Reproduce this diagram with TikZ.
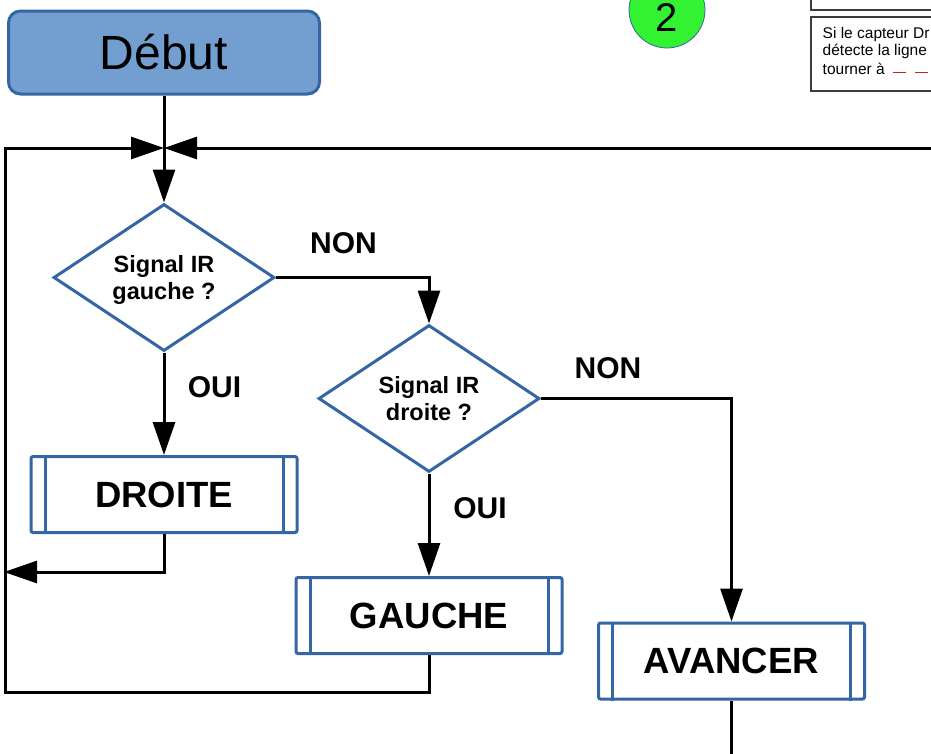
\documentclass[tikz,border=0pt]{standalone}
\usepackage{fontspec}
\setmainfont{Liberation Sans}
\usetikzlibrary{arrows.meta,shapes.geometric,calc}
\definecolor{bluebd}{RGB}{52,101,164}
\definecolor{bluefill}{RGB}{114,159,207}
\definecolor{greenc}{RGB}{50,242,50}
\definecolor{darkred}{RGB}{190,40,40}
\definecolor{boxgray}{RGB}{60,60,60}
\begin{document}
\begin{tikzpicture}[x=1pt,y=-1pt,
  line/.style={line width=3pt, black},
  arr/.style={line, -{Triangle[length=33pt,width=22pt]}},
  procbox/.style={draw=bluebd, line width=3pt, rounded corners=2pt, minimum width=266pt, minimum height=76pt, inner sep=0pt, font=\fontsize{36.5}{40}\selectfont\bfseries},
  decision/.style={diamond, draw=bluebd, line width=3pt, minimum width=221pt, minimum height=147pt, inner sep=0pt, aspect=1.5, align=center, font=\fontsize{23.5}{27}\selectfont\bfseries},
  lbl/.style={font=\fontsize{30}{34}\selectfont\bfseries, inner sep=0pt},
  small/.style={font=\fontsize{15.5}{18}\selectfont, inner sep=0pt, anchor=base west}
]
\useasboundingbox (0,0) rectangle (931,753);

% start
\node[draw=bluebd, fill=bluefill, line width=3pt, rounded corners=12pt,
      minimum width=311pt, minimum height=83pt, inner sep=0pt,
      font=\fontsize{48}{52}\selectfont] (debut) at (164,52.5) {Début};

% circle with 2
\node[circle, draw=bluebd, line width=0.8pt, fill=greenc, minimum size=76pt, inner sep=0pt] (circ) at (667,10) {};
\node[font=\fontsize{40}{44}\selectfont, anchor=base, inner sep=0pt] (two) at (667,31) {2};

% top-right note boxes
\draw[boxgray, line width=1.2pt] (811,-5) -- (811,10) -- (940,10);
\draw[boxgray, line width=1.2pt] (940,17) -- (811,17) -- (811,91) -- (940,91);
\node[small] (t1) at (822.5,38) {Si le capteur Dr};
\node[small] (t2) at (822.5,55.5) {détecte la ligne};
\node[small] (t3) at (822.5,74) {tourner à};
\draw[darkred, line width=1.5pt, dash pattern=on 13pt off 9pt] (893,72.5) -- (945,72.5);

% decisions
\node[decision, text depth=0pt] (d1) at (164,277.5) {Signal IR\\gauche ?};
\node[decision] (d2) at (429,398.5) {Signal IR\\droite ?};

% process boxes
\node[procbox] (droite) at (164,494.5) {DROITE};
\node[procbox] (gauche) at (429,615.5) {GAUCHE};
\node[procbox] (avancer) at (731.5,661) {AVANCER};
\foreach \n in {droite,gauche,avancer}{
  \draw[bluebd, line width=3pt] ([xshift=15.5pt]\n.north west) -- ([xshift=15.5pt]\n.south west);
  \draw[bluebd, line width=3pt] ([xshift=-15.5pt]\n.north east) -- ([xshift=-15.5pt]\n.south east);
}

% coordinates
\coordinate (j) at (164,148);
\coordinate (rgt) at (945,148);
\coordinate (bl) at (5,692);
\coordinate (dl) at (4,572);
\coordinate (bot) at (731.5,760);

% connectors
\draw[line] (debut.south) -- (j);
\draw[arr] (j) -- (d1.north);
\draw[arr] (rgt) -- (j);
\draw[arr] (gauche.south) |- (bl) |- (j);
\draw[arr] (d1.east) -| (d2.north);
\draw[arr] (d1.south) -- (droite.north);
\draw[arr] (droite.south) |- (dl);
\draw[arr] (d2.east) -| (avancer.north);
\draw[arr] (d2.south) -- (gauche.north);
\draw[line] (avancer.south) -- (bot);

% labels
\node[lbl] (non1) at (343.5,243.5) {NON};
\node[lbl] (oui1) at (214.5,387) {OUI};
\node[lbl] (non2) at (608,368.5) {NON};
\node[lbl] (oui2) at (480,508) {OUI};
\end{tikzpicture}
\end{document}
